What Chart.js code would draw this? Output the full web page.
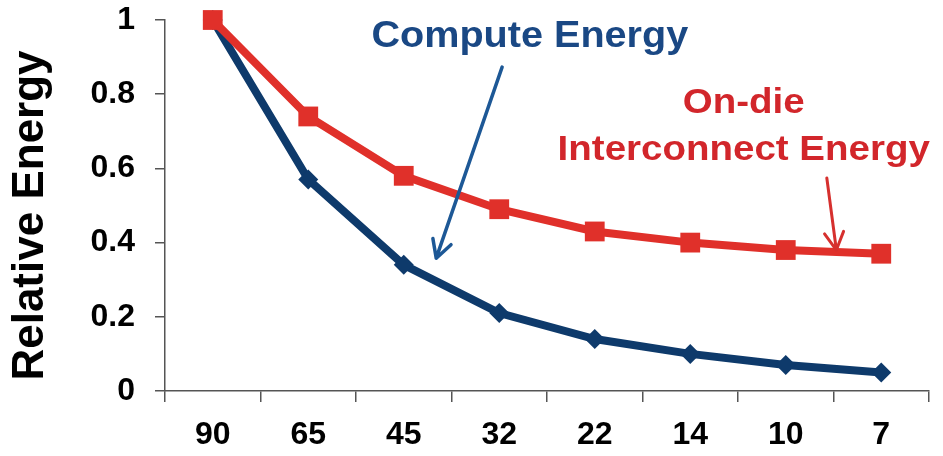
<!DOCTYPE html>
<html>
<head>
<meta charset="utf-8">
<script src="https://cdn.jsdelivr.net/npm/chart.js@4/dist/chart.umd.min.js"></script>
<style>
  html, body { margin: 0; padding: 0; background: #fff; }
  #wrap { width: 943px; height: 456px; position: relative; }
</style>
</head>
<body>
<div id="wrap"><canvas id="chart"></canvas></div>
<script>
// process nodes (nm)
var nodes = ['90', '65', '45', '32', '22', '14', '10', '7'];
// energy relative to 90nm
var interconnect = [1, 0.74, 0.58, 0.49, 0.43, 0.40, 0.38, 0.37];
var compute = [1, 0.57, 0.34, 0.21, 0.14, 0.10, 0.07, 0.05];
var yTicks = ['0', '0.2', '0.4', '0.6', '0.8', '1'];

var red = '#e0302a';
var blue = '#0e3a6b';
var font = '"Liberation Sans", Arial, sans-serif';

// callouts, placed in data units (category index, value)
var notes = [
    {text: 'Compute Energy', x: 3.32, y: 0.927, color: '#1a4884', size: 36},
    {text: 'On-die', x: 5.56, y: 0.749, color: '#d2262b', size: 35},
    {text: 'Interconnect Energy', x: 5.56, y: 0.623, color: '#d2262b', size: 35}
];
var arrows = [
    {from: [3.03, 0.873], to: [2.34, 0.358], color: '#1d5896', width: 3.5},
    {from: [6.43, 0.574], to: [6.53, 0.38], color: '#d6302e', width: 3}
];

var calloutPlugin = {
    id: 'callouts',
    afterDatasetsDraw: function(chart) {
        var ctx = chart.ctx;
        var xs = chart.scales.x, ys = chart.scales.y;
        ctx.save();
        arrows.forEach(function(a) {
            var x1 = xs.getPixelForValue(a.from[0]), y1 = ys.getPixelForValue(a.from[1]);
            var x2 = xs.getPixelForValue(a.to[0]), y2 = ys.getPixelForValue(a.to[1]);
            var ang = Math.atan2(y2 - y1, x2 - x1);
            ctx.strokeStyle = a.color;
            ctx.lineWidth = a.width;
            ctx.lineCap = 'round';
            ctx.lineJoin = 'round';
            ctx.beginPath();
            ctx.moveTo(x1, y1);
            ctx.lineTo(x2, y2);
            ctx.moveTo(x2 - 20 * Math.cos(ang - 0.5), y2 - 20 * Math.sin(ang - 0.5));
            ctx.lineTo(x2, y2);
            ctx.lineTo(x2 - 20 * Math.cos(ang + 0.5), y2 - 20 * Math.sin(ang + 0.5));
            ctx.stroke();
        });
        notes.forEach(function(n) {
            ctx.save();
            ctx.translate(xs.getPixelForValue(n.x), ys.getPixelForValue(n.y));
            ctx.scale(1.1, 1);
            ctx.font = 'bold ' + n.size + 'px ' + font;
            ctx.fillStyle = n.color;
            ctx.textAlign = 'center';
            ctx.textBaseline = 'alphabetic';
            ctx.fillText(n.text, 0, 0);
            ctx.restore();
        });
        // y axis title
        ctx.save();
        ctx.translate(31, (ys.top + ys.bottom) / 2 + 10);
        ctx.rotate(-Math.PI / 2);
        ctx.font = 'bold 44px ' + font;
        ctx.fillStyle = '#000';
        ctx.textAlign = 'center';
        ctx.textBaseline = 'middle';
        ctx.fillText('Relative Energy', 0, 0);
        ctx.restore();
        ctx.restore();
    }
};

var tickFont = {family: font, size: 32, weight: 'bold'};

var chart = new Chart(document.getElementById('chart'), {
    type: 'line',
    data: {
        labels: nodes,
        datasets: [{
            label: 'On-die Interconnect Energy',
            data: interconnect,
            borderColor: red,
            backgroundColor: red,
            borderWidth: 8,
            pointStyle: 'rect',
            pointRadius: 14,
            pointBorderWidth: 0,
            tension: 0,
            clip: false
        }, {
            label: 'Compute Energy',
            data: compute,
            borderColor: blue,
            backgroundColor: blue,
            borderWidth: 8,
            pointStyle: 'rectRot',
            pointRadius: 10,
            pointBorderWidth: 0,
            tension: 0,
            clip: false
        }]
    },
    options: {
        responsive: true,
        maintainAspectRatio: false,
        animation: false,
        layout: {padding: {top: 0, right: 8, left: 0, bottom: 0}},
        plugins: {
            legend: {display: false},
            tooltip: {enabled: false}
        },
        scales: {
            x: {
                offset: true,
                grid: {offset: true, drawOnChartArea: false, tickLength: 11, color: '#555', lineWidth: 1.5},
                border: {color: '#555', width: 1.5},
                ticks: {color: '#000', font: tickFont, padding: 14, maxRotation: 0},
                afterFit: function(s) { s.height = 65; }
            },
            y: {
                min: 0,
                max: 1,
                grid: {drawOnChartArea: false, tickLength: 10, color: '#555', lineWidth: 1.5},
                border: {color: '#555', width: 1.5},
                ticks: {
                    stepSize: 0.2,
                    color: '#000',
                    font: tickFont,
                    padding: 20,
                    callback: function(v, i) { return yTicks[i]; }
                },
                afterFit: function(s) {
                    s.width = 165;
                    s.paddingTop = 20;
                    s.paddingBottom = 0;
                }
            }
        }
    },
    plugins: [calloutPlugin]
});
</script>
</body>
</html>
